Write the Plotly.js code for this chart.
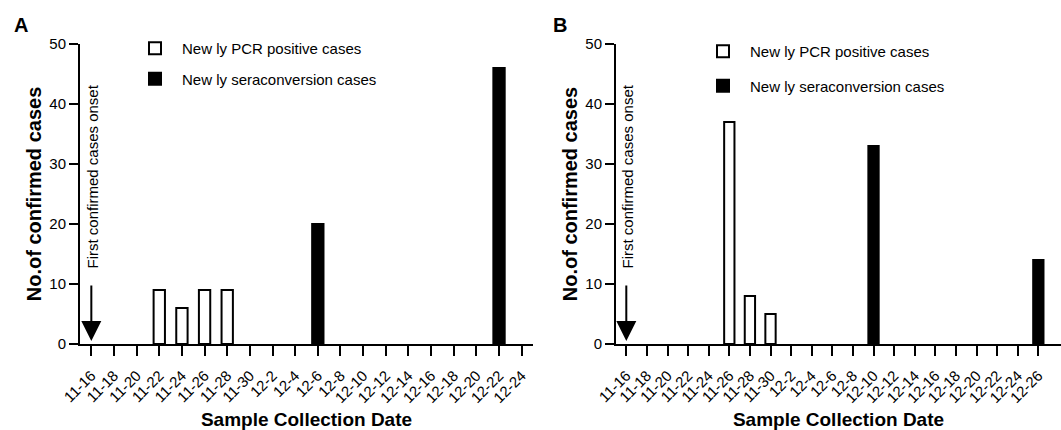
<!DOCTYPE html>
<html>
<head>
<meta charset="utf-8">
<script src="https://cdn.plot.ly/plotly-3.0.1.min.js"></script>
<style>html,body{margin:0;padding:0;background:#fff;}#chart{width:1061px;height:430px;}</style>
</head>
<body>
<div id="chart"></div>
<script>
// ---- data ----
const datesA = ['11-16','11-18','11-20','11-22','11-24','11-26','11-28','11-30','12-2','12-4','12-6','12-8','12-10','12-12','12-14','12-16','12-18','12-20','12-22','12-24'];
const pcrA   = [0,0,0,9,6,9,9,0,0,0,0,0,0,0,0,0,0,0,0,0];
const seroA  = [0,0,0,0,0,0,0,0,0,0,20,0,0,0,0,0,0,0,46,0];

const datesB = ['11-16','11-18','11-20','11-22','11-24','11-26','11-28','11-30','12-2','12-4','12-6','12-8','12-10','12-12','12-14','12-16','12-18','12-20','12-22','12-24','12-26'];
const pcrB   = [0,0,0,0,0,37,8,5,0,0,0,0,0,0,0,0,0,0,0,0,0];
const seroB  = [0,0,0,0,0,0,0,0,0,0,0,0,33,0,0,0,0,0,0,0,14];

const yTicks = [0,10,20,30,40,50];
const pcrName = 'New ly PCR positive cases';
const seroName = 'New ly seraconversion cases';
const onsetText = 'First confirmed cases onset';

// ---- helpers ----
const nz = a => a.map(v => v === 0 ? null : v);
const W = 1061, H = 430;
const px = v => v / W;
const py = v => 1 - v / H;
const FAM = 'Liberation Sans, Arial, sans-serif';

function pcrTrace(x, y, xa, ya, lg) {
  return {type:'bar', x:x, y:nz(y), xaxis:xa, yaxis:ya, name:pcrName, legend:lg, legendgroup:lg+'p',
    width:0.5, marker:{color:'#ffffff', line:{color:'#000000', width:2}}, hoverinfo:'x+y'};
}
function seroTrace(x, y, xa, ya, lg) {
  return {type:'bar', x:x, y:nz(y), xaxis:xa, yaxis:ya, name:seroName, legend:lg, legendgroup:lg+'s',
    width:0.5, marker:{color:'#000000', line:{color:'#000000', width:2}}, hoverinfo:'x+y'};
}

const data = [
  pcrTrace(datesA, pcrA, 'x', 'y', 'legend'),
  seroTrace(datesA, seroA, 'x', 'y', 'legend'),
  pcrTrace(datesB, pcrB, 'x2', 'y2', 'legend2'),
  seroTrace(datesB, seroB, 'x2', 'y2', 'legend2')
];

function xAxis(dom, n, anchor) {
  return {domain:dom, type:'category', range:[-0.5, n], anchor:anchor,
    showline:true, linewidth:2, linecolor:'#000', ticks:'outside', ticklen:10, tickwidth:2, tickcolor:'#000',
    tickangle:-45, dtick:1, ticklabelstandoff:5, tickfont:{family:FAM, size:15, color:'#000'}, showgrid:false, zeroline:false,
    title:{text:'Sample Collection Date', font:{family:FAM, size:19, weight:700, color:'#000'}, standoff:16}};
}
function yAxis(anchor) {
  return {domain:[py(344), py(44)], range:[0,50], anchor:anchor, tickvals:yTicks,
    showline:true, linewidth:2, linecolor:'#000', ticks:'outside', ticklen:9, tickwidth:2, tickcolor:'#000',
    tickfont:{family:FAM, size:15, color:'#000'}, showgrid:false, zeroline:false,
    title:{text:'No.of confirmed cases', font:{family:FAM, size:20, weight:700, color:'#000'}, standoff:2}};
}

function arrowAnn(xa, ya, cat) {
  return {xref:xa, yref:ya, axref:xa, ayref:ya, x:cat, y:0.5, ax:cat, ay:10, text:'', showarrow:true,
    arrowhead:2, arrowsize:2, arrowwidth:2, arrowcolor:'#000'};
}
function onsetAnn(xa, ya, cat) {
  return {xref:xa, yref:ya, x:cat, y:12.3, text:onsetText, textangle:-90, showarrow:false, xshift:1,
    xanchor:'center', yanchor:'bottom', font:{family:FAM, size:15, color:'#000'}};
}

const layout = {
  width:W, height:H, margin:{l:0, r:0, t:0, b:0}, paper_bgcolor:'#fff', plot_bgcolor:'rgba(0,0,0,0)',
  barmode:'overlay', font:{family:FAM, color:'#000'},
  xaxis: xAxis([px(80), px(533)], 19.5, 'y'),
  yaxis: yAxis('x'),
  xaxis2: xAxis([px(616), 1], 21.1, 'y2'),
  yaxis2: yAxis('x2'),
  legend: {x:px(128), y:py(32), xanchor:'left', yanchor:'top', bgcolor:'rgba(0,0,0,0)', tracegroupgap:8,
    itemwidth:44, font:{family:FAM, size:15, color:'#000'}},
  legend2: {x:px(696), y:py(35), xanchor:'left', yanchor:'top', bgcolor:'rgba(0,0,0,0)', tracegroupgap:12,
    itemwidth:44, font:{family:FAM, size:15, color:'#000'}},
  annotations: [
    {xref:'paper', yref:'paper', x:px(12), y:py(12), xanchor:'left', yanchor:'top', text:'A', showarrow:false,
      font:{family:FAM, size:20, weight:700, color:'#000'}},
    {xref:'paper', yref:'paper', x:px(551), y:py(12), xanchor:'left', yanchor:'top', text:'B', showarrow:false,
      font:{family:FAM, size:20, weight:700, color:'#000'}},
    arrowAnn('x', 'y', datesA[0]), onsetAnn('x', 'y', datesA[0]),
    arrowAnn('x2', 'y2', datesB[0]), onsetAnn('x2', 'y2', datesB[0])
  ]
};

Plotly.newPlot('chart', data, layout, {staticPlot:true, displayModeBar:false});
</script>
</body>
</html>
